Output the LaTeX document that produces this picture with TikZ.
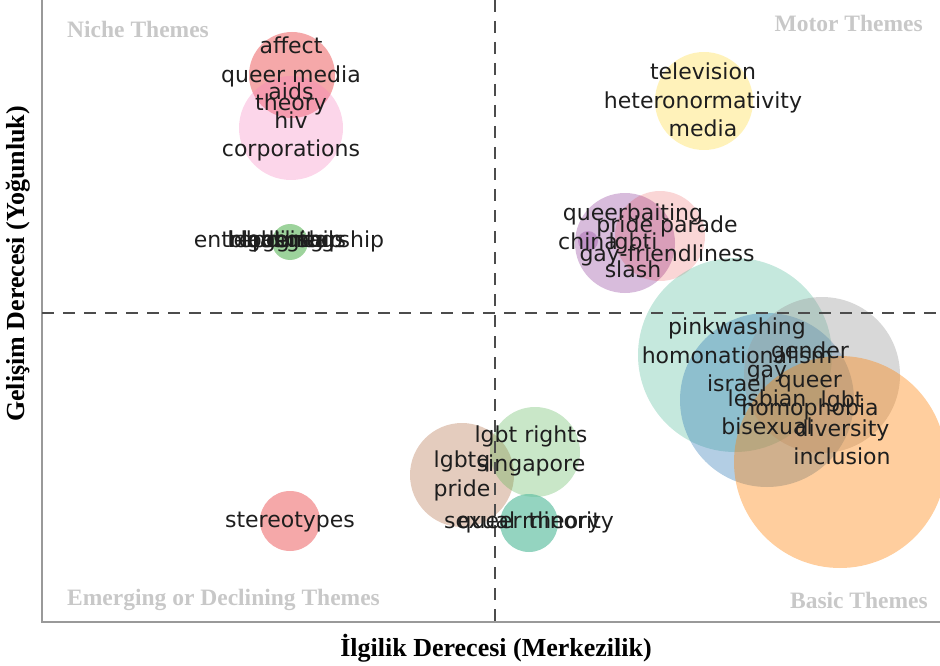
\documentclass[tikz,border=0pt]{standalone}
\usepackage{fontspec}
\usepackage{tikz}
\usetikzlibrary{positioning}
\newfontfamily\bubblefont{DejaVu Sans}
\newfontfamily\axisfont{Liberation Serif}
\definecolor{mapred}{HTML}{E41A1C}
\definecolor{mappink}{HTML}{F781BF}
\definecolor{mapgreen}{HTML}{4DAF4A}
\definecolor{mapyellow}{HTML}{FFD92F}
\definecolor{mappurple}{HTML}{984EA3}
\definecolor{mapteal}{HTML}{66C2A5}
\definecolor{mapblue}{HTML}{377EB8}
\definecolor{mapgray}{HTML}{999999}
\definecolor{maporange}{HTML}{FF7F00}
\definecolor{mapbrown}{HTML}{A65628}
\definecolor{quadgray}{HTML}{C8C8C8}
\definecolor{labelink}{HTML}{1E1E1E}

\begin{document}
\begin{tikzpicture}[
    x=1pt, y=-1pt,
    bubble/.style={circle, draw=none, inner sep=0pt, fill opacity=0.38},
    words/.style={align=center, text=labelink, inner sep=0pt, font=\bubblefont\fontsize{22}{28.5}\selectfont},
    quadrant/.style={text=quadgray, inner sep=0pt, font=\axisfont\bfseries\fontsize{23.5}{26}\selectfont},
    axistitle/.style={text=black, inner sep=0pt, font=\axisfont\bfseries\fontsize{26}{30}\selectfont},
    frame/.style={draw=gray!80, line width=1.3pt},
    divider/.style={draw=black!70, line width=1.8pt, dash pattern=on 12pt off 9pt},
]
    \useasboundingbox (0,0) rectangle (940,666);

    \node[bubble, fill=mapred, minimum size=86pt] (affectB) at (292,75) {};
    \node[bubble, fill=mappink, fill opacity=0.32, minimum size=104pt] (corpB) at (291,128) {};
    \node[bubble, fill=mapgreen, fill opacity=0.55, minimum size=36pt] (entreB) at (290,242) {};
    \node[bubble, fill=mapred, minimum size=60pt] (stereoB) at (290,521) {};
    \node[bubble, fill=mapyellow, fill opacity=0.33, minimum size=98pt] (tvB) at (704,101) {};
    \node[bubble, fill=mappurple, minimum size=100pt] (baitB) at (625,243) {};
    \node[bubble, fill=mapred, fill opacity=0.18, minimum size=90pt] (paradeB) at (660,236) {};
    \node[bubble, fill=mappurple, minimum size=20pt] (chinaB) at (588,241) {};
    \node[bubble, fill=mapteal, minimum size=194pt] (pinkB) at (735,355) {};
    \node[bubble, fill=mapblue, minimum size=174pt] (gayB) at (767,400) {};
    \node[bubble, fill=mapgray, minimum size=156pt] (genderB) at (822,375) {};
    \node[bubble, fill=maporange, minimum size=212pt] (inclB) at (840,462) {};
    \node[bubble, fill=mapbrown, fill opacity=0.3, minimum size=104pt] (prideB) at (462,475) {};
    \node[bubble, fill=mapgreen, fill opacity=0.3, minimum size=90pt] (rightsB) at (535,452) {};
    \node[bubble, fill=mapteal, fill opacity=0.7, minimum size=58pt] (minorB) at (529,523) {};

    \draw[frame] (42,0) -- (42,622) -- (940,622);
    \draw[divider] (495,0) -- (495,622);
    \draw[divider] (42,313) -- (940,313);

    \node[words] (affectT) at (291,76) {affect\\queer media\\theory};
    \node[words] (corpT) at (291,122) {aids\\hiv\\corporations};
    \node[words] (entreT) at (289,241) {entrepreneurship};
    \node[words] (leadT) at (285,241) {leadership};
    \node[words] (lgbtT) at (262,241) {lgbt};
    \node[words] (digiT) at (300,241) {digital};
    \node[words] (blogT) at (276,241) {blogging};
    \node[words] (hashT) at (296,241) {hashtags};
    \node[words] (stereoT) at (290,522) {stereotypes};
    \node[words] (tvT) at (703,100) {television\\heteronormativity\\media};
    \node[words] (baitT) at (633,241) {queerbaiting\\lgbti\\slash};
    \node[words] (paradeT) at (667,241) {pride parade\\gay-friendliness};
    \node[words] (chinaT) at (588,241) {china};
    \node[words] (pinkT) at (737,355) {pinkwashing\\homonationalism\\israel};
    \node[words] (gayT) at (767,400) {gay\\lesbian\\bisexual};
    \node[words] (genderT) at (810,381) {gender\\queer\\homophobia};
    \node[words] (inclT) at (842,428) {lgbt\\diversity\\inclusion};
    \node[words] (prideT) at (462,476) {lgbtq\\pride};
    \node[words] (rightsT) at (531,451) {lgbt rights\\singapore};
    \node[words] (minorT) at (529,522) {sexual minority};
    \node[words] (qtheoryT) at (529,522) {queer theory};

    \node[quadrant, anchor=west] (niche) at (67,29) {Niche Themes};
    \node[quadrant, anchor=east] (motor) at (923,23) {Motor Themes};
    \node[quadrant, anchor=west] (emerging) at (67,600) {Emerging or Declining Themes};
    \node[quadrant, anchor=east] (basic) at (928,600) {Basic Themes};

    \node[axistitle] (xtitle) at (496,648) {İlgilik Derecesi (Merkezilik)};
    \node[axistitle, rotate=90] (ytitle) at (18,264) {Gelişim Derecesi (Yoğunluk)};
\end{tikzpicture}
\end{document}
